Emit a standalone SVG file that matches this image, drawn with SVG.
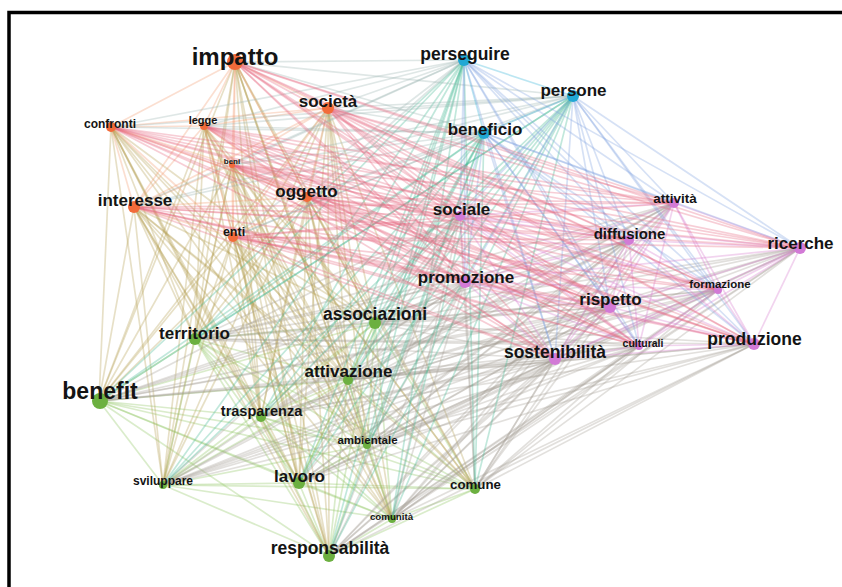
<svg xmlns="http://www.w3.org/2000/svg" width="842" height="587" viewBox="0 0 842 587">
<style>
.bg{fill:#fff}
.frame{fill:none;stroke:#000;stroke-width:3.5}
#connectors path{fill:none;stroke-width:1.7;stroke-opacity:0.32;stroke-linecap:round}
.oo path{stroke:#f49a70}
.oc path{stroke:#9cb4b0}
.op path{stroke:#e5687e}
.og path{stroke:#b49e52}
.cc path{stroke:#30b0d8}
.cp path{stroke:#80a2e0}
.cg path{stroke:#40b892}
.pp path{stroke:#d878cc}
.pg path{stroke:#a49e94}
.gg path{stroke:#8cc45e}
.o circle{fill:#f26b3a}
.c circle{fill:#22a8d4}
.p circle{fill:#d27ad6}
.g circle{fill:#6cb040}
text{font-family:"Liberation Sans",Arial,sans-serif;font-weight:bold;fill:#141414;text-anchor:middle}
</style>
<rect class="bg" width="842" height="587"/>
<rect class="frame" x="9" y="12.5" width="900" height="700"/>
<g id="connectors">
<g class="gg">
<path d="M375 323L195 339"/><path d="M375 323L99 401"/><path d="M375 323L348 380"/><path d="M375 323L261 417"/><path d="M375 323L367 445"/><path d="M375 323L163 485"/><path d="M375 323L299 483"/><path d="M375 323L392 519"/><path d="M375 323L329 556"/><path d="M375 323L475 489"/>
<path d="M195 339L99 401"/><path d="M195 339L348 380"/><path d="M195 339L261 417"/><path d="M195 339L367 445"/><path d="M195 339L163 485"/><path d="M195 339L299 483"/><path d="M195 339L392 519"/><path d="M195 339L329 556"/><path d="M195 339L475 489"/>
<path d="M99 401L348 380"/><path d="M99 401L261 417"/><path d="M99 401L367 445"/><path d="M99 401L163 485"/><path d="M99 401L299 483"/><path d="M99 401L392 519"/><path d="M99 401L329 556"/><path d="M99 401L475 489"/>
<path d="M348 380L261 417"/><path d="M348 380L367 445"/><path d="M348 380L163 485"/><path d="M348 380L299 483"/><path d="M348 380L392 519"/><path d="M348 380L329 556"/><path d="M348 380L475 489"/>
<path d="M261 417L367 445"/><path d="M261 417L163 485"/><path d="M261 417L299 483"/><path d="M261 417L392 519"/><path d="M261 417L329 556"/><path d="M261 417L475 489"/>
<path d="M367 445L163 485"/><path d="M367 445L299 483"/><path d="M367 445L392 519"/><path d="M367 445L329 556"/><path d="M367 445L475 489"/>
<path d="M163 485L299 483"/><path d="M163 485L392 519"/><path d="M163 485L329 556"/><path d="M163 485L475 489"/>
<path d="M299 483L392 519"/><path d="M299 483L329 556"/><path d="M299 483L475 489"/>
<path d="M392 519L329 556"/><path d="M392 519L475 489"/><path d="M329 556L475 489"/>
</g>
<g class="og">
<path d="M235 62L375 323"/><path d="M235 62L195 339"/><path d="M235 62L99 401"/><path d="M235 62L348 380"/><path d="M235 62L261 417"/><path d="M235 62L367 445"/><path d="M235 62L163 485"/><path d="M235 62L299 483"/><path d="M235 62L392 519"/><path d="M235 62L329 556"/><path d="M235 62L475 489"/>
<path d="M328 108L375 323"/><path d="M328 108L195 339"/><path d="M328 108L99 401"/><path d="M328 108L348 380"/><path d="M328 108L261 417"/><path d="M328 108L367 445"/><path d="M328 108L163 485"/><path d="M328 108L299 483"/><path d="M328 108L392 519"/><path d="M328 108L329 556"/><path d="M328 108L475 489"/>
<path d="M111 127L375 323"/><path d="M111 127L195 339"/><path d="M111 127L99 401"/><path d="M111 127L348 380"/><path d="M111 127L261 417"/><path d="M111 127L367 445"/><path d="M111 127L163 485"/><path d="M111 127L299 483"/><path d="M111 127L392 519"/><path d="M111 127L329 556"/><path d="M111 127L475 489"/>
<path d="M204 126L375 323"/><path d="M204 126L195 339"/><path d="M204 126L99 401"/><path d="M204 126L348 380"/><path d="M204 126L261 417"/><path d="M204 126L367 445"/><path d="M204 126L163 485"/><path d="M204 126L299 483"/><path d="M204 126L392 519"/><path d="M204 126L329 556"/><path d="M204 126L475 489"/>
<path d="M232 165L375 323"/><path d="M232 165L195 339"/><path d="M232 165L99 401"/><path d="M232 165L348 380"/><path d="M232 165L261 417"/><path d="M232 165L367 445"/><path d="M232 165L163 485"/><path d="M232 165L299 483"/><path d="M232 165L392 519"/><path d="M232 165L329 556"/><path d="M232 165L475 489"/>
<path d="M134 207L375 323"/><path d="M134 207L195 339"/><path d="M134 207L99 401"/><path d="M134 207L348 380"/><path d="M134 207L261 417"/><path d="M134 207L367 445"/><path d="M134 207L163 485"/><path d="M134 207L299 483"/><path d="M134 207L392 519"/><path d="M134 207L329 556"/><path d="M134 207L475 489"/>
<path d="M307 197L375 323"/><path d="M307 197L195 339"/><path d="M307 197L99 401"/><path d="M307 197L348 380"/><path d="M307 197L261 417"/><path d="M307 197L367 445"/><path d="M307 197L163 485"/><path d="M307 197L299 483"/><path d="M307 197L392 519"/><path d="M307 197L329 556"/><path d="M307 197L475 489"/>
<path d="M233 237L375 323"/><path d="M233 237L195 339"/><path d="M233 237L99 401"/><path d="M233 237L348 380"/><path d="M233 237L261 417"/><path d="M233 237L367 445"/><path d="M233 237L163 485"/><path d="M233 237L299 483"/><path d="M233 237L392 519"/><path d="M233 237L329 556"/><path d="M233 237L475 489"/>
</g>
<g class="pg">
<path d="M460 216L375 323"/><path d="M460 216L195 339"/><path d="M460 216L99 401"/><path d="M460 216L348 380"/><path d="M460 216L261 417"/><path d="M460 216L367 445"/><path d="M460 216L163 485"/><path d="M460 216L299 483"/><path d="M460 216L392 519"/><path d="M460 216L329 556"/><path d="M460 216L475 489"/>
<path d="M674 203L375 323"/><path d="M674 203L195 339"/><path d="M674 203L99 401"/><path d="M674 203L348 380"/><path d="M674 203L261 417"/><path d="M674 203L367 445"/><path d="M674 203L163 485"/><path d="M674 203L299 483"/><path d="M674 203L392 519"/><path d="M674 203L329 556"/><path d="M674 203L475 489"/>
<path d="M629 240L375 323"/><path d="M629 240L195 339"/><path d="M629 240L99 401"/><path d="M629 240L348 380"/><path d="M629 240L261 417"/><path d="M629 240L367 445"/><path d="M629 240L163 485"/><path d="M629 240L299 483"/><path d="M629 240L392 519"/><path d="M629 240L329 556"/><path d="M629 240L475 489"/>
<path d="M800 248L375 323"/><path d="M800 248L195 339"/><path d="M800 248L99 401"/><path d="M800 248L348 380"/><path d="M800 248L261 417"/><path d="M800 248L367 445"/><path d="M800 248L163 485"/><path d="M800 248L299 483"/><path d="M800 248L392 519"/><path d="M800 248L329 556"/><path d="M800 248L475 489"/>
<path d="M465 282L375 323"/><path d="M465 282L195 339"/><path d="M465 282L99 401"/><path d="M465 282L348 380"/><path d="M465 282L261 417"/><path d="M465 282L367 445"/><path d="M465 282L163 485"/><path d="M465 282L299 483"/><path d="M465 282L392 519"/><path d="M465 282L329 556"/><path d="M465 282L475 489"/>
<path d="M718 290L375 323"/><path d="M718 290L195 339"/><path d="M718 290L99 401"/><path d="M718 290L348 380"/><path d="M718 290L261 417"/><path d="M718 290L367 445"/><path d="M718 290L163 485"/><path d="M718 290L299 483"/><path d="M718 290L392 519"/><path d="M718 290L329 556"/><path d="M718 290L475 489"/>
<path d="M610 307L375 323"/><path d="M610 307L195 339"/><path d="M610 307L99 401"/><path d="M610 307L348 380"/><path d="M610 307L261 417"/><path d="M610 307L367 445"/><path d="M610 307L163 485"/><path d="M610 307L299 483"/><path d="M610 307L392 519"/><path d="M610 307L329 556"/><path d="M610 307L475 489"/>
<path d="M639 346L375 323"/><path d="M639 346L195 339"/><path d="M639 346L99 401"/><path d="M639 346L348 380"/><path d="M639 346L261 417"/><path d="M639 346L367 445"/><path d="M639 346L163 485"/><path d="M639 346L299 483"/><path d="M639 346L392 519"/><path d="M639 346L329 556"/><path d="M639 346L475 489"/>
<path d="M754 344L375 323"/><path d="M754 344L195 339"/><path d="M754 344L99 401"/><path d="M754 344L348 380"/><path d="M754 344L261 417"/><path d="M754 344L367 445"/><path d="M754 344L163 485"/><path d="M754 344L299 483"/><path d="M754 344L392 519"/><path d="M754 344L329 556"/><path d="M754 344L475 489"/>
<path d="M555 359L375 323"/><path d="M555 359L195 339"/><path d="M555 359L99 401"/><path d="M555 359L348 380"/><path d="M555 359L261 417"/><path d="M555 359L367 445"/><path d="M555 359L163 485"/><path d="M555 359L299 483"/><path d="M555 359L392 519"/><path d="M555 359L329 556"/><path d="M555 359L475 489"/>
</g>
<g class="cg">
<path d="M464 60L375 323"/><path d="M464 60L195 339"/><path d="M464 60L99 401"/><path d="M464 60L348 380"/><path d="M464 60L261 417"/><path d="M464 60L367 445"/><path d="M464 60L163 485"/><path d="M464 60L299 483"/><path d="M464 60L392 519"/><path d="M464 60L329 556"/><path d="M464 60L475 489"/>
<path d="M573 96L375 323"/><path d="M573 96L195 339"/><path d="M573 96L99 401"/><path d="M573 96L348 380"/><path d="M573 96L261 417"/><path d="M573 96L367 445"/><path d="M573 96L163 485"/><path d="M573 96L299 483"/><path d="M573 96L392 519"/><path d="M573 96L329 556"/><path d="M573 96L475 489"/>
<path d="M484 133L375 323"/><path d="M484 133L195 339"/><path d="M484 133L99 401"/><path d="M484 133L348 380"/><path d="M484 133L261 417"/><path d="M484 133L367 445"/><path d="M484 133L163 485"/><path d="M484 133L299 483"/><path d="M484 133L392 519"/><path d="M484 133L329 556"/><path d="M484 133L475 489"/>
</g>
<g class="oo">
<path d="M235 62L328 108"/><path d="M235 62L111 127"/><path d="M235 62L204 126"/><path d="M235 62L232 165"/><path d="M235 62L134 207"/><path d="M235 62L307 197"/><path d="M235 62L233 237"/>
<path d="M328 108L111 127"/><path d="M328 108L204 126"/><path d="M328 108L232 165"/><path d="M328 108L134 207"/><path d="M328 108L307 197"/><path d="M328 108L233 237"/>
<path d="M111 127L204 126"/><path d="M111 127L232 165"/><path d="M111 127L134 207"/><path d="M111 127L307 197"/><path d="M111 127L233 237"/>
<path d="M204 126L232 165"/><path d="M204 126L134 207"/><path d="M204 126L307 197"/><path d="M204 126L233 237"/>
<path d="M232 165L134 207"/><path d="M232 165L307 197"/><path d="M232 165L233 237"/>
<path d="M134 207L307 197"/><path d="M134 207L233 237"/><path d="M307 197L233 237"/>
</g>
<g class="oc">
<path d="M235 62L464 60"/><path d="M235 62L573 96"/><path d="M235 62L484 133"/>
<path d="M328 108L464 60"/><path d="M328 108L573 96"/><path d="M328 108L484 133"/>
<path d="M111 127L464 60"/><path d="M111 127L573 96"/><path d="M111 127L484 133"/>
<path d="M204 126L464 60"/><path d="M204 126L573 96"/><path d="M204 126L484 133"/>
<path d="M232 165L464 60"/><path d="M232 165L573 96"/><path d="M232 165L484 133"/>
<path d="M134 207L464 60"/><path d="M134 207L573 96"/><path d="M134 207L484 133"/>
<path d="M307 197L464 60"/><path d="M307 197L573 96"/><path d="M307 197L484 133"/>
<path d="M233 237L464 60"/><path d="M233 237L573 96"/><path d="M233 237L484 133"/>
</g>
<g class="pp">
<path d="M460 216L674 203"/><path d="M460 216L629 240"/><path d="M460 216L800 248"/><path d="M460 216L465 282"/><path d="M460 216L718 290"/><path d="M460 216L610 307"/><path d="M460 216L639 346"/><path d="M460 216L754 344"/><path d="M460 216L555 359"/>
<path d="M674 203L629 240"/><path d="M674 203L800 248"/><path d="M674 203L465 282"/><path d="M674 203L718 290"/><path d="M674 203L610 307"/><path d="M674 203L639 346"/><path d="M674 203L754 344"/><path d="M674 203L555 359"/>
<path d="M629 240L800 248"/><path d="M629 240L465 282"/><path d="M629 240L718 290"/><path d="M629 240L610 307"/><path d="M629 240L639 346"/><path d="M629 240L754 344"/><path d="M629 240L555 359"/>
<path d="M800 248L465 282"/><path d="M800 248L718 290"/><path d="M800 248L610 307"/><path d="M800 248L639 346"/><path d="M800 248L754 344"/><path d="M800 248L555 359"/>
<path d="M465 282L718 290"/><path d="M465 282L610 307"/><path d="M465 282L639 346"/><path d="M465 282L754 344"/><path d="M465 282L555 359"/>
<path d="M718 290L610 307"/><path d="M718 290L639 346"/><path d="M718 290L754 344"/><path d="M718 290L555 359"/>
<path d="M610 307L639 346"/><path d="M610 307L754 344"/><path d="M610 307L555 359"/>
<path d="M639 346L754 344"/><path d="M639 346L555 359"/><path d="M754 344L555 359"/>
</g>
<g class="cc">
<path d="M464 60L573 96"/><path d="M464 60L484 133"/><path d="M573 96L484 133"/>
</g>
<g class="cp">
<path d="M464 60L460 216"/><path d="M464 60L674 203"/><path d="M464 60L629 240"/><path d="M464 60L800 248"/><path d="M464 60L465 282"/><path d="M464 60L718 290"/><path d="M464 60L610 307"/><path d="M464 60L639 346"/><path d="M464 60L754 344"/><path d="M464 60L555 359"/>
<path d="M573 96L460 216"/><path d="M573 96L674 203"/><path d="M573 96L629 240"/><path d="M573 96L800 248"/><path d="M573 96L465 282"/><path d="M573 96L718 290"/><path d="M573 96L610 307"/><path d="M573 96L639 346"/><path d="M573 96L754 344"/><path d="M573 96L555 359"/>
<path d="M484 133L460 216"/><path d="M484 133L674 203"/><path d="M484 133L629 240"/><path d="M484 133L800 248"/><path d="M484 133L465 282"/><path d="M484 133L718 290"/><path d="M484 133L610 307"/><path d="M484 133L639 346"/><path d="M484 133L754 344"/><path d="M484 133L555 359"/>
</g>
<g class="op">
<path d="M235 62L460 216"/><path d="M235 62L674 203"/><path d="M235 62L629 240"/><path d="M235 62L800 248"/><path d="M235 62L465 282"/><path d="M235 62L718 290"/><path d="M235 62L610 307"/><path d="M235 62L639 346"/><path d="M235 62L754 344"/><path d="M235 62L555 359"/>
<path d="M328 108L460 216"/><path d="M328 108L674 203"/><path d="M328 108L629 240"/><path d="M328 108L800 248"/><path d="M328 108L465 282"/><path d="M328 108L718 290"/><path d="M328 108L610 307"/><path d="M328 108L639 346"/><path d="M328 108L754 344"/><path d="M328 108L555 359"/>
<path d="M111 127L460 216"/><path d="M111 127L674 203"/><path d="M111 127L629 240"/><path d="M111 127L800 248"/><path d="M111 127L465 282"/><path d="M111 127L718 290"/><path d="M111 127L610 307"/><path d="M111 127L639 346"/><path d="M111 127L754 344"/><path d="M111 127L555 359"/>
<path d="M204 126L460 216"/><path d="M204 126L674 203"/><path d="M204 126L629 240"/><path d="M204 126L800 248"/><path d="M204 126L465 282"/><path d="M204 126L718 290"/><path d="M204 126L610 307"/><path d="M204 126L639 346"/><path d="M204 126L754 344"/><path d="M204 126L555 359"/>
<path d="M232 165L460 216"/><path d="M232 165L674 203"/><path d="M232 165L629 240"/><path d="M232 165L800 248"/><path d="M232 165L465 282"/><path d="M232 165L718 290"/><path d="M232 165L610 307"/><path d="M232 165L639 346"/><path d="M232 165L754 344"/><path d="M232 165L555 359"/>
<path d="M134 207L460 216"/><path d="M134 207L674 203"/><path d="M134 207L629 240"/><path d="M134 207L800 248"/><path d="M134 207L465 282"/><path d="M134 207L718 290"/><path d="M134 207L610 307"/><path d="M134 207L639 346"/><path d="M134 207L754 344"/><path d="M134 207L555 359"/>
<path d="M307 197L460 216"/><path d="M307 197L674 203"/><path d="M307 197L629 240"/><path d="M307 197L800 248"/><path d="M307 197L465 282"/><path d="M307 197L718 290"/><path d="M307 197L610 307"/><path d="M307 197L639 346"/><path d="M307 197L754 344"/><path d="M307 197L555 359"/>
<path d="M233 237L460 216"/><path d="M233 237L674 203"/><path d="M233 237L629 240"/><path d="M233 237L800 248"/><path d="M233 237L465 282"/><path d="M233 237L718 290"/><path d="M233 237L610 307"/><path d="M233 237L639 346"/><path d="M233 237L754 344"/><path d="M233 237L555 359"/>
</g>
</g>
<g id="nodes">
<g id="n-impatto" class="o"><circle cx="235" cy="62" r="8"/><text x="235" y="65" font-size="24">impatto</text></g>
<g id="n-societa" class="o"><circle cx="328" cy="108" r="6"/><text x="328" y="107" font-size="17">società</text></g>
<g id="n-confronti" class="o"><circle cx="111" cy="127" r="5"/><text x="110" y="128" font-size="12">confronti</text></g>
<g id="n-legge" class="o"><circle cx="204" cy="126" r="4"/><text x="203" y="124" font-size="11">legge</text></g>
<g id="n-beni" class="o"><circle cx="232" cy="165" r="3"/><text x="232" y="164" font-size="8">beni</text></g>
<g id="n-interesse" class="o"><circle cx="134" cy="207" r="6"/><text x="135" y="206" font-size="17">interesse</text></g>
<g id="n-oggetto" class="o"><circle cx="307" cy="197" r="5"/><text x="306.5" y="197" font-size="17">oggetto</text></g>
<g id="n-enti" class="o"><circle cx="233" cy="237" r="5"/><text x="234" y="236" font-size="12.5">enti</text></g>
<g id="n-perseguire" class="c"><circle cx="464" cy="60" r="6"/><text x="465" y="60" font-size="17.5">perseguire</text></g>
<g id="n-persone" class="c"><circle cx="573" cy="96" r="6"/><text x="573.5" y="96" font-size="17">persone</text></g>
<g id="n-beneficio" class="c"><circle cx="484" cy="133" r="6"/><text x="485" y="135" font-size="17">beneficio</text></g>
<g id="n-sociale" class="p"><circle cx="460" cy="216" r="5"/><text x="461.5" y="215" font-size="17">sociale</text></g>
<g id="n-attivita" class="p"><circle cx="674" cy="203" r="5"/><text x="675" y="203" font-size="13.5">attività</text></g>
<g id="n-diffusione" class="p"><circle cx="629" cy="240" r="5"/><text x="629.5" y="239" font-size="15">diffusione</text></g>
<g id="n-ricerche" class="p"><circle cx="800" cy="248" r="6"/><text x="800.5" y="249" font-size="17">ricerche</text></g>
<g id="n-promozione" class="p"><circle cx="465" cy="282" r="6"/><text x="466" y="283" font-size="17">promozione</text></g>
<g id="n-formazione" class="p"><circle cx="718" cy="290" r="4"/><text x="720" y="288" font-size="11.5">formazione</text></g>
<g id="n-rispetto" class="p"><circle cx="610" cy="307" r="6"/><text x="610.5" y="305" font-size="17">rispetto</text></g>
<g id="n-culturali" class="p"><circle cx="639" cy="346" r="4"/><text x="643" y="347" font-size="10.5">culturali</text></g>
<g id="n-produzione" class="p"><circle cx="754" cy="344" r="6"/><text x="754.5" y="345" font-size="17.5">produzione</text></g>
<g id="n-sostenibilita" class="p"><circle cx="555" cy="359" r="6"/><text x="555" y="358" font-size="17.5">sostenibilità</text></g>
<g id="n-associazioni" class="g"><circle cx="375" cy="323" r="6"/><text x="375" y="320" font-size="17.5">associazioni</text></g>
<g id="n-territorio" class="g"><circle cx="195" cy="339" r="6"/><text x="194.5" y="339" font-size="17">territorio</text></g>
<g id="n-benefit" class="g"><circle cx="100" cy="401" r="8"/><text x="100" y="399" font-size="23">benefit</text></g>
<g id="n-attivazione" class="g"><circle cx="348" cy="380" r="5"/><text x="348.5" y="377" font-size="17">attivazione</text></g>
<g id="n-trasparenza" class="g"><circle cx="261" cy="417" r="5"/><text x="261.5" y="416" font-size="14.5">trasparenza</text></g>
<g id="n-ambientale" class="g"><circle cx="367" cy="445" r="4"/><text x="367.5" y="444" font-size="11.5">ambientale</text></g>
<g id="n-sviluppare" class="g"><circle cx="163" cy="485" r="4"/><text x="163" y="485" font-size="12">sviluppare</text></g>
<g id="n-lavoro" class="g"><circle cx="299" cy="483" r="6"/><text x="299.5" y="482" font-size="17">lavoro</text></g>
<g id="n-comunita" class="g"><circle cx="392" cy="519" r="4"/><text x="391.5" y="520" font-size="9.7">comunità</text></g>
<g id="n-responsabilita" class="g"><circle cx="329" cy="556" r="6"/><text x="330" y="554" font-size="17.5">responsabilità</text></g>
<g id="n-comune" class="g"><circle cx="475" cy="489" r="5"/><text x="475.5" y="489" font-size="13.3">comune</text></g>
</g>
</svg>
